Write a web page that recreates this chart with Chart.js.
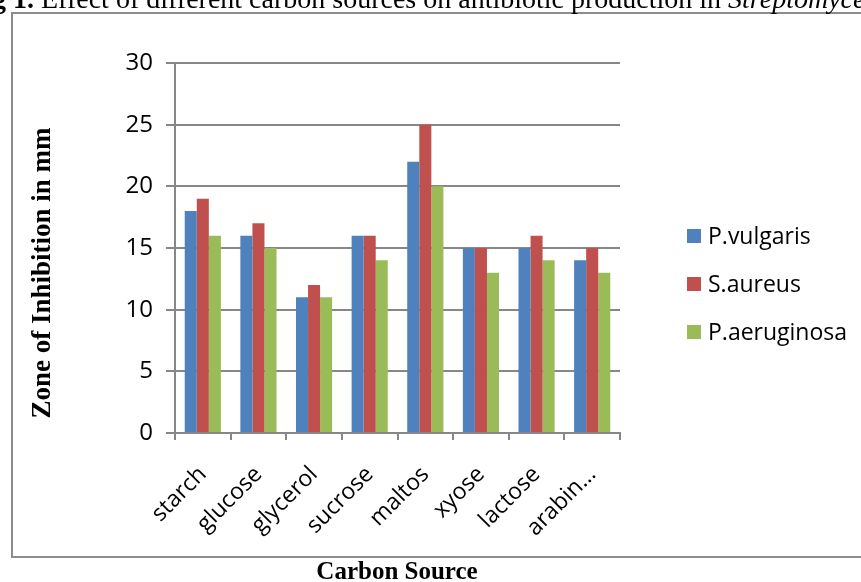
<!DOCTYPE html>
<html>
<head>
<meta charset="utf-8">
<script src="https://cdn.jsdelivr.net/npm/chart.js@4/dist/chart.umd.min.js"></script>
<style>
  html, body { margin: 0; padding: 0; background: #ffffff; }
  #wrap { position: relative; width: 861px; height: 582px; overflow: hidden; }
  canvas { display: block; }
</style>
</head>
<body>
<div id="wrap"><canvas id="c" width="861" height="582"></canvas></div>
<script>
// Carbon sources tested
const categories = ['starch', 'glucose', 'glycerol', 'sucrose', 'maltos', 'xyose', 'lactose', 'arabin\u2026'];

// Zone of inhibition (mm) against each test organism
const pVulgaris   = [18, 16, 11, 16, 22, 15, 15, 14];
const sAureus     = [19, 17, 12, 16, 25, 15, 16, 15];
const pAeruginosa = [16, 15, 11, 14, 20, 13, 14, 13];

const seriesNames = ['P.vulgaris', 'S.aureus', 'P.aeruginosa'];
const seriesColors = ['#4F81BD', '#C0504D', '#9BBB59'];

const yTicks = [0, 5, 10, 15, 20, 25, 30];

const captionLead = 'Fig 1. ';
const captionBody = 'Effect of different carbon sources on antibiotic production in ';
const captionItalic = 'Streptomyces';
const yTitle = 'Zone of Inhibition in mm';
const xTitle = 'Carbon Source';

const gridColor = '#878787';
const tickFont = '"Open Sans", "Liberation Sans", sans-serif';
const serifFont = '"Liberation Serif", "DejaVu Serif", serif';

// Frame, caption, axis titles and the legend
const decorations = {
  id: 'decorations',
  beforeDraw(chart) {
    const ctx = chart.ctx;
    ctx.save();
    ctx.fillStyle = '#ffffff';
    ctx.fillRect(0, 0, chart.width, chart.height);
    ctx.restore();
  },
  afterDraw(chart) {
    const ctx = chart.ctx;
    ctx.save();

    // outer frame
    ctx.strokeStyle = '#8c8c8c';
    ctx.lineWidth = 2;
    ctx.beginPath();
    ctx.moveTo(900, 13);
    ctx.lineTo(12, 13);
    ctx.lineTo(12, 557);
    ctx.lineTo(900, 557);
    ctx.stroke();

    // caption line above the frame (partly outside the view)
    ctx.fillStyle = '#000000';
    ctx.textBaseline = 'alphabetic';
    ctx.textAlign = 'left';
    const capY = 8;
    ctx.font = 'bold 28px ' + serifFont;
    let x = 13 - ctx.measureText('Fig ').width;
    ctx.fillText(captionLead, x, capY);
    x += ctx.measureText(captionLead).width;
    ctx.font = '28px ' + serifFont;
    ctx.fillText(captionBody, x, capY);
    x += ctx.measureText(captionBody).width;
    ctx.font = 'italic 28px ' + serifFont;
    ctx.fillText(captionItalic, x, capY);

    // axis titles
    ctx.font = 'bold 25px ' + serifFont;
    ctx.textAlign = 'center';
    ctx.textBaseline = 'alphabetic';
    ctx.fillText(xTitle, 397, 579);
    ctx.font = 'bold 27px ' + serifFont;
    ctx.textBaseline = 'middle';
    ctx.translate(43, 273);
    ctx.rotate(-Math.PI / 2);
    ctx.fillText(yTitle, 0, 0);
    ctx.restore();

    // legend
    ctx.save();
    ctx.font = '23px ' + tickFont;
    ctx.textAlign = 'left';
    ctx.textBaseline = 'middle';
    chart.data.datasets.forEach((ds, i) => {
      const cy = 237 + i * 48;
      ctx.fillStyle = ds.backgroundColor;
      ctx.fillRect(687, cy - 8, 14, 14);
      ctx.fillStyle = '#000000';
      ctx.fillText(ds.label, 708, cy);
    });
    ctx.restore();
  }
};

new Chart(document.getElementById('c'), {
  type: 'bar',
  data: {
    labels: categories,
    datasets: [
      { label: seriesNames[0], data: pVulgaris,   backgroundColor: seriesColors[0] },
      { label: seriesNames[1], data: sAureus,     backgroundColor: seriesColors[1] },
      { label: seriesNames[2], data: pAeruginosa, backgroundColor: seriesColors[2] }
    ]
  },
  options: {
    responsive: false,
    animation: false,
    devicePixelRatio: 1,
    layout: { padding: { top: 63, right: 241, bottom: 0, left: 0 } },
    datasets: {
      bar: { categoryPercentage: 0.65, barPercentage: 1.0, borderWidth: 0 }
    },
    plugins: {
      legend: { display: false },
      tooltip: { enabled: false },
      title: { display: false }
    },
    scales: {
      x: {
        offset: true,
        grid: {
          offset: true,
          display: true,
          drawOnChartArea: false,
          drawTicks: true,
          tickLength: 7,
          color: gridColor,
          lineWidth: 2
        },
        border: { display: true, color: gridColor, width: 2 },
        ticks: {
          color: '#000000',
          font: { family: tickFont, size: 23 },
          minRotation: 45,
          maxRotation: 45,
          padding: 21,
          autoSkip: false
        },
        afterFit(scale) { scale.height = 149; }
      },
      y: {
        min: 0,
        max: 30,
        afterBuildTicks(scale) { scale.ticks = yTicks.map(v => ({ value: v })); },
        grid: {
          color: gridColor,
          lineWidth: 2,
          drawTicks: true,
          tickLength: 9
        },
        border: { display: true, color: gridColor, width: 2 },
        ticks: {
          color: '#000000',
          font: { family: tickFont, size: 24 },
          padding: 13
        },
        afterFit(scale) { scale.width = 175; }
      }
    }
  },
  plugins: [decorations]
});
</script>
</body>
</html>
